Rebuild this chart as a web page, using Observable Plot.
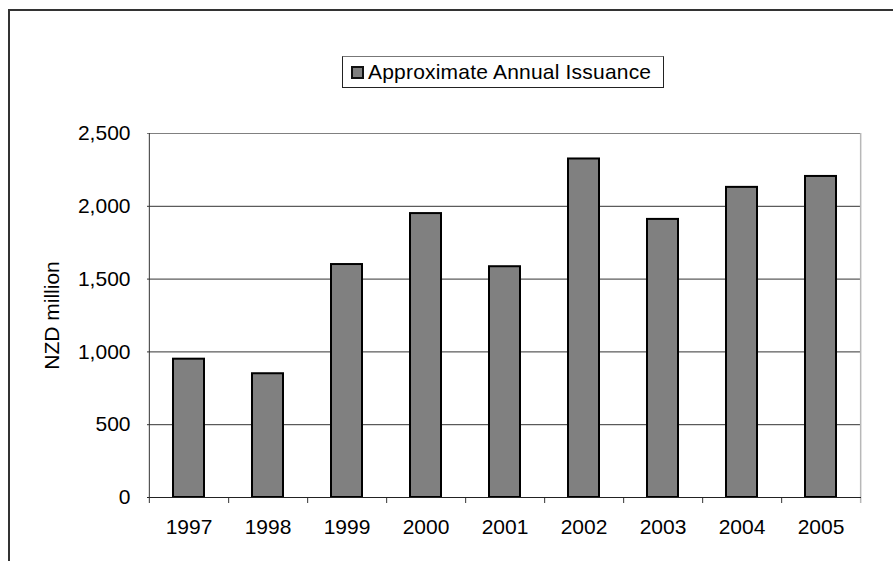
<!DOCTYPE html>
<html>
<head>
<meta charset="utf-8">
<script src="https://cdn.jsdelivr.net/npm/d3@7"></script>
<script src="https://cdn.jsdelivr.net/npm/@observablehq/plot@0.6"></script>
<style>
  html, body { margin: 0; padding: 0; background: #fff; }
  #wrap { position: relative; width: 893px; height: 561px; overflow: hidden; font-family: "Liberation Sans", Arial, sans-serif; }
  #border { position: absolute; left: 8px; top: 9px; width: 1000px; height: 1000px; border: 2px solid #333; box-sizing: border-box; }
  #legend { position: absolute; left: 342px; top: 56px; width: 322px; height: 32px; box-sizing: border-box;
    border: 1px solid #222; border-top-color: #777; display: flex; align-items: center; background: #fff; }
  #legend .sw { width: 13px; height: 13px; box-sizing: border-box; background: #808080; border: 2px solid #111; margin-left: 8px; margin-right: 4px; }
  #legend .lb { font-size: 21px; color: #000; white-space: nowrap; letter-spacing: 0.2px; }
  #chart { position: absolute; left: 0; top: 0; }
</style>
</head>
<body>
<div id="wrap">
  <div id="border"></div>
  <div id="chart"></div>
  <div id="legend"><div class="sw"></div><div class="lb">Approximate Annual Issuance</div></div>
</div>
<script>
const years = ["1997", "1998", "1999", "2000", "2001", "2002", "2003", "2004", "2005"];
const issuance = [950, 850, 1600, 1950, 1585, 2325, 1910, 2130, 2205];
const yTicks = [0, 500, 1000, 1500, 2000, 2500];
const yLabel = "NZD million";

const W = 893, H = 561;
const mL = 147, mR = 32, mT = 133, mB = 64;
const step = (W - mL - mR) / years.length;

const chart = Plot.plot({
  width: W,
  height: H,
  marginLeft: mL,
  marginRight: mR,
  marginTop: mT,
  marginBottom: mB,
  style: { fontFamily: "'Liberation Sans', Arial, sans-serif", fontSize: "21px", color: "#000", background: "transparent" },
  x: { domain: years, paddingInner: 0.61, paddingOuter: 0.305 },
  y: { domain: [0, 2500] },
  marks: [
    Plot.ruleY(yTicks.filter(v => v > 0 && v < 2500), { stroke: "#333", strokeWidth: 1 }),
    Plot.ruleY([2500], { stroke: "#808080", strokeWidth: 1 }),
    Plot.ruleX([years[years.length - 1]], { dx: step / 2, y1: 2500, y2: 0, insetBottom: -6, stroke: "#b8b8b8", strokeWidth: 1.5 }),
    Plot.ruleX(years.slice(0, -1), { dx: step / 2, y1: 0, y2: 0, insetBottom: -6, stroke: "#333" }),
    Plot.barY(issuance, { x: years, y: issuance, fill: "#808080", stroke: "#000", strokeWidth: 2 }),
    Plot.ruleY([0], { stroke: "#222" }),
    Plot.ruleX([years[0]], { dx: -step / 2, y1: 2500, y2: 0, insetBottom: -6, stroke: "#333" }),
    Plot.axisY(yTicks, {
      ticks: yTicks, tickSize: 0, tickPadding: 17, tickFormat: d3.format(","),
      label: yLabel, labelAnchor: "center", labelOffset: 103, labelArrow: "none", dy: 0
    }),
    Plot.ruleY(yTicks, { x1: years[0], x2: years[0], dx: -step / 2, insetLeft: -6, stroke: "#333" }),
    Plot.axisX({ tickSize: 0, tickPadding: 22, label: null })
  ]
});
document.getElementById("chart").appendChild(chart);
</script>
</body>
</html>
